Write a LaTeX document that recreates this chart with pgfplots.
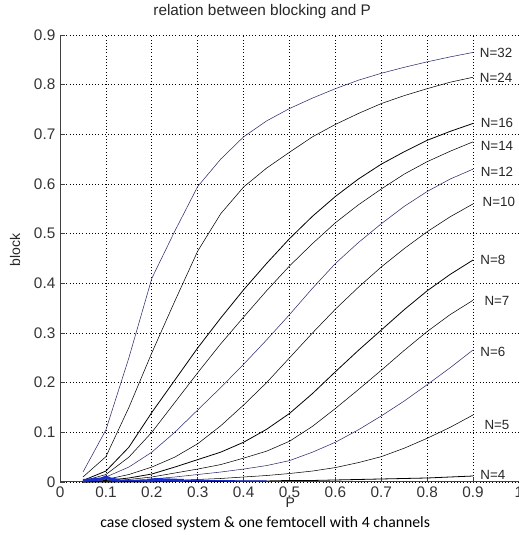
\documentclass[border=0pt]{standalone}
\usepackage{pgfplots}
\pgfplotsset{compat=1.18}
\usepackage{fontspec}
\setmainfont{Liberation Sans}
\newfontfamily\capfont{Carlito}
\definecolor{curve}{HTML}{2B2B6E}
\definecolor{blob}{HTML}{1A2ECC}

\begin{document}
\begin{tikzpicture}
\useasboundingbox (-45pt,-39.75pt) rectangle (344pt,361.25pt);
\begin{axis}[
  scale only axis,width=344pt,height=335pt,
  xmin=0,xmax=1,ymin=0,ymax=0.9,
  xtick={0,0.1,0.2,0.3,0.4,0.5,0.6,0.7,0.8,0.9,1},
  ytick={0,0.1,0.2,0.3,0.4,0.5,0.6,0.7,0.8,0.9},
  axis x line=bottom,axis y line=left,
  axis line style={-,draw=black!75,line width=0.8pt},
  tick style={draw=black!75,line width=0.6pt},
  major tick length=4pt,tick align=inside,
  grid=major,grid style={dotted,draw=black,line width=0.6pt},
  /pgf/number format/assume math mode=true,
  tick label style={font=\fontsize{11.5}{12}\selectfont,text=black!80},
  cycle list={{color=curve,solid,line width=0.6pt,mark=none}},
  clip=false]
% N=32
\addplot coordinates{(0.05,0.02)(0.1,0.105)(0.15,0.25)(0.2,0.41)(0.25,0.505)(0.3,0.595)(0.35,0.65)(0.4,0.695)(0.45,0.727)(0.5,0.752)(0.55,0.773)(0.6,0.792)(0.65,0.809)(0.7,0.823)(0.75,0.835)(0.8,0.846)(0.85,0.856)(0.9,0.865)};
% N=24
\addplot coordinates{(0.05,0.01)(0.1,0.051)(0.15,0.15)(0.2,0.26)(0.25,0.364)(0.3,0.465)(0.35,0.54)(0.4,0.594)(0.45,0.632)(0.5,0.664)(0.55,0.695)(0.6,0.72)(0.65,0.742)(0.7,0.762)(0.75,0.778)(0.8,0.792)(0.85,0.805)(0.9,0.815)};
% N=16
\addplot coordinates{(0.05,0.003)(0.1,0.022)(0.15,0.07)(0.2,0.14)(0.25,0.205)(0.3,0.27)(0.35,0.33)(0.4,0.387)(0.45,0.44)(0.5,0.49)(0.55,0.535)(0.6,0.575)(0.65,0.61)(0.7,0.64)(0.75,0.665)(0.8,0.688)(0.85,0.706)(0.9,0.722)};
% N=14
\addplot coordinates{(0.05,0.002)(0.1,0.015)(0.15,0.05)(0.2,0.1)(0.25,0.16)(0.3,0.22)(0.35,0.278)(0.4,0.332)(0.45,0.385)(0.5,0.435)(0.55,0.48)(0.6,0.522)(0.65,0.558)(0.7,0.59)(0.75,0.62)(0.8,0.645)(0.85,0.666)(0.9,0.685)};
% N=12
\addplot coordinates{(0.05,0.001)(0.1,0.01)(0.15,0.03)(0.2,0.06)(0.25,0.1)(0.3,0.145)(0.35,0.19)(0.4,0.237)(0.45,0.286)(0.5,0.337)(0.55,0.39)(0.6,0.44)(0.65,0.482)(0.7,0.52)(0.75,0.555)(0.8,0.585)(0.85,0.61)(0.9,0.63)};
% N=10
\addplot coordinates{(0.05,0.001)(0.1,0.005)(0.15,0.015)(0.2,0.03)(0.25,0.05)(0.3,0.077)(0.35,0.113)(0.4,0.155)(0.45,0.2)(0.5,0.25)(0.55,0.3)(0.6,0.348)(0.65,0.392)(0.7,0.433)(0.75,0.47)(0.8,0.504)(0.85,0.534)(0.9,0.56)};
% N=8
\addplot coordinates{(0.05,0)(0.1,0.003)(0.15,0.008)(0.2,0.016)(0.25,0.03)(0.3,0.045)(0.35,0.06)(0.4,0.08)(0.45,0.106)(0.5,0.138)(0.55,0.178)(0.6,0.222)(0.65,0.265)(0.7,0.306)(0.75,0.347)(0.8,0.385)(0.85,0.418)(0.9,0.447)};
% N=7
\addplot coordinates{(0.05,0)(0.1,0.002)(0.15,0.005)(0.2,0.01)(0.25,0.018)(0.3,0.026)(0.35,0.035)(0.4,0.048)(0.45,0.062)(0.5,0.082)(0.55,0.112)(0.6,0.148)(0.65,0.186)(0.7,0.225)(0.75,0.265)(0.8,0.303)(0.85,0.337)(0.9,0.366)};
% N=6
\addplot coordinates{(0.05,0)(0.1,0.001)(0.15,0.003)(0.2,0.006)(0.25,0.01)(0.3,0.015)(0.35,0.02)(0.4,0.026)(0.45,0.033)(0.5,0.043)(0.55,0.06)(0.6,0.08)(0.65,0.105)(0.7,0.133)(0.75,0.163)(0.8,0.196)(0.85,0.23)(0.9,0.266)};
% N=5
\addplot coordinates{(0.05,0)(0.1,0)(0.15,0.001)(0.2,0.002)(0.25,0.003)(0.3,0.005)(0.35,0.007)(0.4,0.01)(0.45,0.013)(0.5,0.017)(0.55,0.022)(0.6,0.029)(0.65,0.039)(0.7,0.051)(0.75,0.068)(0.8,0.088)(0.85,0.11)(0.9,0.135)};
% N=4
\addplot coordinates{(0.05,0)(0.1,0)(0.15,0)(0.2,0)(0.25,0.001)(0.3,0.001)(0.35,0.001)(0.4,0.002)(0.45,0.002)(0.5,0.003)(0.55,0.003)(0.6,0.004)(0.65,0.005)(0.7,0.006)(0.75,0.007)(0.8,0.008)(0.85,0.01)(0.9,0.012)};
% blue blobs near zero
\addplot[color=blob,line width=2.2pt] coordinates{(0.05,0.003)(0.09,0.006)(0.1,0.01)(0.11,0.006)(0.13,0.003)};
\addplot[color=blob,line width=2.2pt] coordinates{(0.19,0.003)(0.21,0.005)(0.24,0.004)(0.27,0.003)};
\addplot[color=blob,line width=1pt] coordinates{(0.13,0.003)(0.19,0.003)};
\addplot[color=blob,line width=0.8pt] coordinates{(0.27,0.003)(0.45,0.002)};
% labels
\begin{scope}[every node/.style={font=\fontsize{10}{12}\selectfont,text=black!85}]
\node at (axis cs:0.95,0.863){N=32};
\node at (axis cs:0.95,0.813){N=24};
\node at (axis cs:0.952,0.724){N=16};
\node at (axis cs:0.952,0.676){N=14};
\node at (axis cs:0.952,0.624){N=12};
\node at (axis cs:0.956,0.563){N=10};
\node at (axis cs:0.943,0.447){N=8};
\node at (axis cs:0.952,0.364){N=7};
\node at (axis cs:0.943,0.262){N=6};
\node at (axis cs:0.952,0.115){N=5};
\node at (axis cs:0.943,0.014){N=4};
\end{scope}
\end{axis}
\node[font=\fontsize{11.5}{13}\selectfont,text=black!85] at (151.5pt,352.5pt){relation between blocking and P};
\node[font=\fontsize{10.5}{12}\selectfont,text=black!85,rotate=90] at (-33.75pt,174pt){block};
\node[font=\fontsize{10.5}{12}\selectfont,text=black!85] at (172.5pt,-15.75pt){P};
\node[font=\capfont\fontsize{11.8}{13}\selectfont] at (153.75pt,-30.75pt){case closed system \& one femtocell with 4 channels};
\end{tikzpicture}
\end{document}
